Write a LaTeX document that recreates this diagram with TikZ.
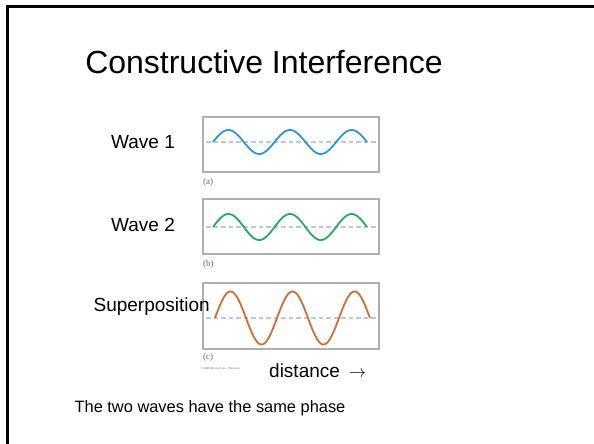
\documentclass[tikz,border=0pt]{standalone}
\usepackage{fontspec}
\setmainfont{Liberation Sans}
\newfontfamily\smallserif{Liberation Serif}
\definecolor{waveA}{RGB}{45,150,215}
\definecolor{waveB}{RGB}{40,170,90}
\definecolor{waveC}{RGB}{205,110,50}
\definecolor{boxgray}{RGB}{175,175,175}
\definecolor{dashgray}{RGB}{190,198,208}
\definecolor{lblgray}{RGB}{100,100,100}
\begin{document}
\begin{tikzpicture}[x=1pt,y=-1pt,
  panel/.style={draw=boxgray,line width=1.1pt},
  midline/.style={draw=dashgray,line width=1.1pt,dash pattern=on 4.5pt off 3pt},
  wavepen/.style={line width=1.8pt},
  lbl/.style={inner sep=0pt,font=\fontsize{19}{22}\selectfont},
  sub/.style={inner sep=0pt,font=\smallserif\fontsize{9}{10}\selectfont,text=lblgray}]
\useasboundingbox (0,0) rectangle (594,444);
\clip (0,0) rectangle (594,444);
\fill[white] (0,0) rectangle (594,444);
\draw[line width=2.2pt] (7.5,460) -- (7.5,6.5) -- (610,6.5);
% title
\node[inner sep=0pt,font=\fontsize{32}{36}\selectfont] (title) at (264,62) {Constructive Interference};
% panel 1
\draw[panel] (203,117) rectangle (379,172);
\draw[midline] (206,142) -- (377,142);
\draw[wavepen,waveA] plot[domain=0:154,samples=150,smooth] ({213+\x},{142-12*sin(5.8442*\x)});
\node[sub,anchor=west] (la) at (203,182) {(a)};
\node[lbl] (w1) at (143,142) {Wave 1};
% panel 2
\draw[panel] (203,199) rectangle (379,254);
\draw[midline] (206,227) -- (377,227);
\draw[wavepen,waveB] plot[domain=0:154,samples=150,smooth] ({213+\x},{227-13*sin(5.8442*\x)});
\node[sub,anchor=west] (lb) at (203,264) {(b)};
\node[lbl] (w2) at (143,225) {Wave 2};
% panel 3
\draw[panel] (203,283) rectangle (379,349);
\draw[midline] (206,318) -- (377,318);
\draw[wavepen,waveC] plot[domain=0:155,samples=150,smooth] ({215+\x},{318-26.5*sin(5.80645*\x)});
\node[sub,anchor=west] (lc) at (203,357) {(c)};
\node[lbl,anchor=east] (sp) at (210,307) {Superposition};
\node[inner sep=0pt,anchor=west,font=\smallserif\fontsize{3}{4}\selectfont,text=lblgray] (copy) at (201,368) {\textcopyright\,2006 Brooks/Cole - Thomson};
\node[lbl,anchor=west] (dist) at (269,371) {distance\hspace{9pt}\(\rightarrow\)};
\node[inner sep=0pt,font=\fontsize{16.4}{20}\selectfont] (phase) at (210,408) {The two waves have the same phase};
\end{tikzpicture}
\end{document}
